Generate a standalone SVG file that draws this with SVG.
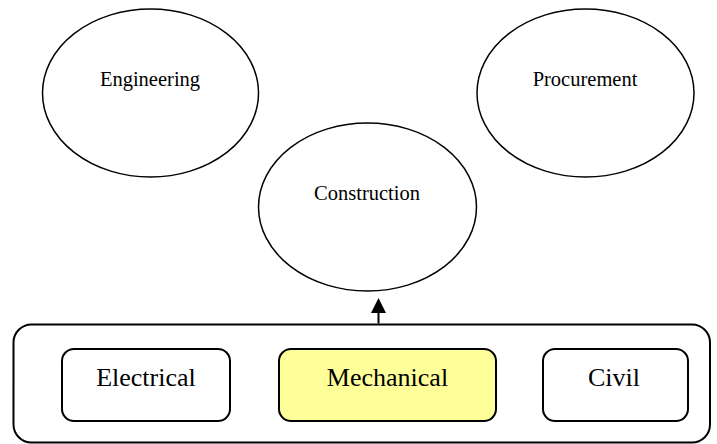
<svg xmlns="http://www.w3.org/2000/svg" width="717" height="444" viewBox="0 0 717 444">
<style>
.node ellipse{fill:#fff;stroke:#000;stroke-width:1.5}
.box rect{fill:#fff;stroke:#000;stroke-width:2}
text{font-family:"Liberation Serif","Times New Roman",serif;fill:#000;text-anchor:middle}
.t1{font-size:20.5px}
.t2{font-size:26px}
</style>
<defs>
<marker id="arr" markerWidth="16" markerHeight="16" refX="8" refY="7.5" orient="auto" markerUnits="userSpaceOnUse" viewBox="0 0 16 16">
<path d="M0,0 L15,7.5 L0,15 Z" fill="#000"/>
</marker>
</defs>
<g id="engineering" class="node"><ellipse cx="150.5" cy="93" rx="108" ry="84"/><text class="t1" x="150" y="86">Engineering</text></g>
<g id="procurement" class="node"><ellipse cx="585.5" cy="93" rx="108.5" ry="84"/><text class="t1" x="585" y="86">Procurement</text></g>
<g id="construction" class="node"><ellipse cx="367.5" cy="207" rx="109" ry="84"/><text class="t1" x="367" y="200">Construction</text></g>
<g id="disciplines" class="box"><rect x="13.5" y="324.5" width="696.5" height="118" rx="18"/></g>
<g id="electrical" class="box"><rect x="62" y="349" width="168" height="72" rx="12"/><text class="t2" x="146" y="386">Electrical</text></g>
<g id="mechanical" class="box"><rect x="279" y="349" width="217" height="72" rx="12" style="fill:#ffff99"/><text class="t2" x="387.5" y="386">Mechanical</text></g>
<g id="civil" class="box"><rect x="543" y="349" width="145" height="72" rx="12"/><text class="t2" x="614" y="386">Civil</text></g>
<g id="connectors"><line x1="378.5" y1="323.5" x2="378.5" y2="305" stroke="#000" stroke-width="2" marker-end="url(#arr)"/></g>
</svg>
